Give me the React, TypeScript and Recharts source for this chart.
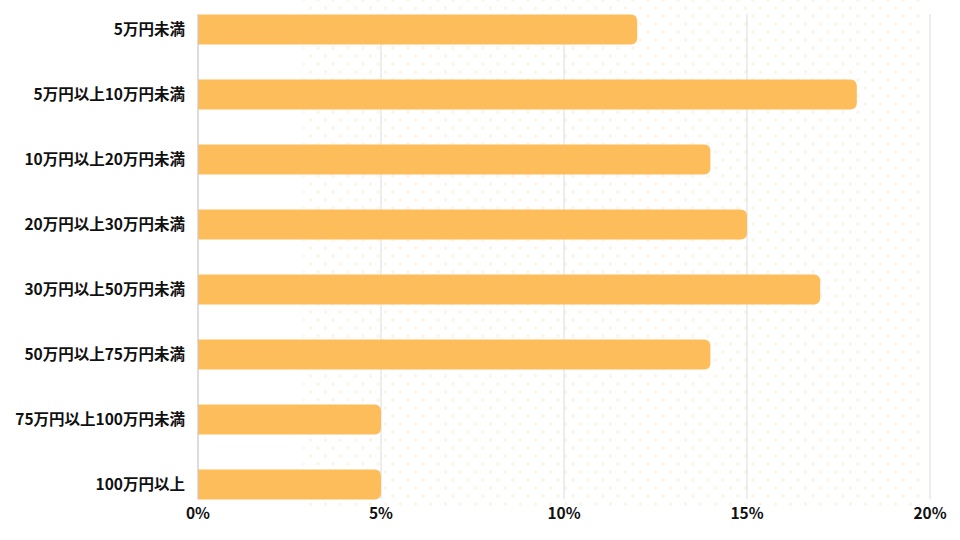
import { BarChart, Bar, XAxis, YAxis, CartesianGrid } from 'recharts';

const categories = [
  '5万円未満',
  '5万円以上10万円未満',
  '10万円以上20万円未満',
  '20万円以上30万円未満',
  '30万円以上50万円未満',
  '50万円以上75万円未満',
  '75万円以上100万円未満',
  '100万円以上',
];
const shares = [12, 18, 14, 15, 17, 14, 5, 5];
const xTicks = [0, 5, 10, 15, 20];

const data = categories.map((name, i) => ({ name, value: shares[i] }));

const FONT = '"Noto Sans CJK JP", "Noto Sans", sans-serif';

export default function App() {
  return (
    <div style={{ position: 'absolute', left: 0, top: 0, width: 960, height: 540, background: '#fff' }}>
      {/* faint dotted backdrop */}
      <div
        style={{
          position: 'absolute',
          left: 303,
          top: 0,
          width: 620,
          height: 510,
          backgroundImage:
            'radial-gradient(circle, #fdf4e6 1.4px, transparent 2px), radial-gradient(circle, #fdf4e6 1.4px, transparent 2px)',
          backgroundSize: '15px 16px, 15px 16px',
          backgroundPosition: '0px 0px, 7.5px 8px',
        }}
      />
      <div style={{ position: 'absolute', left: 0, top: 0 }}>
        <BarChart
          width={960}
          height={540}
          data={data}
          layout="vertical"
          margin={{ top: 14, right: 30, bottom: 0, left: 0 }}
          barSize={30}
        >
          <CartesianGrid horizontal={false} stroke="#dcdcdc" />
          <XAxis
            type="number"
            domain={[0, 20]}
            ticks={xTicks}
            tickFormatter={(v: number) => `${v}%`}
            axisLine={false}
            tickLine={false}
            tickSize={0}
            tickMargin={9}
            height={41}
            tick={{ fill: '#111', fontSize: 15.5, fontWeight: 700, fontFamily: FONT }}
          />
          <YAxis
            type="category"
            dataKey="name"
            width={198}
            padding={{ top: -17.5, bottom: -17.5 }}
            axisLine={{ stroke: '#cccccc' }}
            tickLine={false}
            tickSize={0}
            tickMargin={13}
            tick={{ fill: '#111', fontSize: 15.5, fontWeight: 700, fontFamily: FONT }}
          />
          <Bar dataKey="value" fill="#fdbd5b" radius={[0, 6, 6, 0]} isAnimationActive={false} />
        </BarChart>
      </div>
    </div>
  );
}
